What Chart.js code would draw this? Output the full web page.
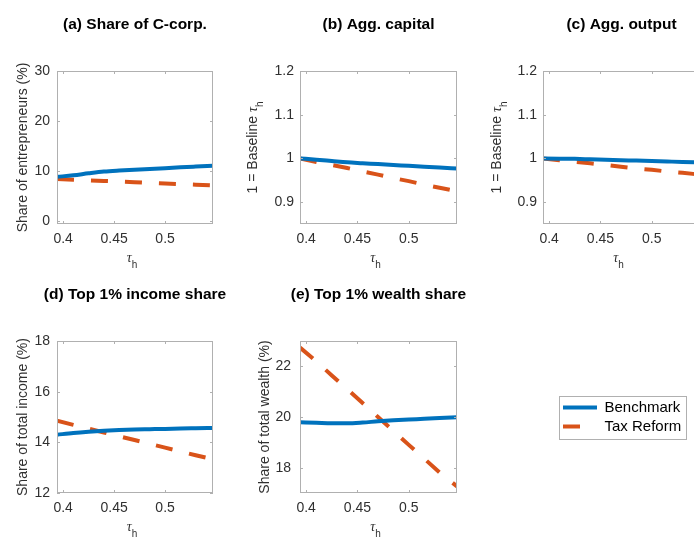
<!DOCTYPE html>
<html><head><meta charset="utf-8">
<script src="https://cdn.jsdelivr.net/npm/chart.js@4.4.1/dist/chart.umd.min.js"></script>
<style>
html,body{margin:0;padding:0;width:694px;height:539px;overflow:hidden;background:#fff;}
canvas{position:absolute;}
</style></head><body>
<canvas id="pa" width="720" height="539" style="left:0;top:0"></canvas>
<canvas id="pb" width="720" height="539" style="left:0;top:0"></canvas>
<canvas id="pc" width="720" height="539" style="left:0;top:0"></canvas>
<canvas id="pd" width="720" height="539" style="left:0;top:0"></canvas>
<canvas id="pe" width="720" height="539" style="left:0;top:0"></canvas>
<canvas id="leg" width="128" height="44" style="left:559px;top:396px"></canvas>
<script>
// ---- data ----
const tau = [0.394, 0.41, 0.425, 0.44, 0.455, 0.47, 0.485, 0.5, 0.515, 0.53, 0.547];
const xTickValues = [0.4, 0.45, 0.5];
const xTickLabels = ['0.4', '0.45', '0.5'];
const seriesNames = ['Benchmark', 'Tax Reform'];
const panelTitles = ['(a) Share of C-corp.', '(b) Agg. capital', '(c) Agg. output', '(d) Top 1% income share', '(e) Top 1% wealth share'];

const benchCcorp   = [8.9, 9.2, 9.6, 9.95, 10.15, 10.3, 10.45, 10.6, 10.8, 10.95, 11.1];
const reformCcorp  = [8.45, 8.32, 8.2, 8.08, 7.96, 7.84, 7.7, 7.58, 7.45, 7.33, 7.2];
const benchCapital = [1.0, 0.997, 0.994, 0.991, 0.989, 0.987, 0.985, 0.983, 0.981, 0.979, 0.977];
const reformCapital= [1.0, 0.992, 0.985, 0.978, 0.970, 0.963, 0.955, 0.948, 0.940, 0.933, 0.925];
const benchOutput  = [1.0, 0.9995, 0.999, 0.998, 0.997, 0.996, 0.995, 0.994, 0.993, 0.992, 0.991];
const reformOutput = [1.0, 0.996, 0.992, 0.989, 0.985, 0.981, 0.977, 0.974, 0.970, 0.967, 0.963];
const benchIncome  = [14.3, 14.37, 14.42, 14.46, 14.49, 14.51, 14.52, 14.53, 14.55, 14.56, 14.57];
const reformIncome = [14.85, 14.69, 14.54, 14.39, 14.24, 14.09, 13.94, 13.79, 13.64, 13.49, 13.33];
const benchWealth  = [19.79, 19.77, 19.75, 19.75, 19.78, 19.83, 19.87, 19.9, 19.93, 19.96, 19.99];
const reformWealth = [22.74, 22.19, 21.64, 21.1, 20.55, 20.0, 19.45, 18.9, 18.36, 17.81, 17.26];

const yTicksCcorp = [0, 10, 20, 30];      const yTickLabelsCcorp = ['0', '10', '20', '30'];
const yTicksRatio = [0.9, 1, 1.1, 1.2];   const yTickLabelsRatio = ['0.9', '1', '1.1', '1.2'];
const yTicksIncome = [12, 14, 16, 18];    const yTickLabelsIncome = ['12', '14', '16', '18'];
const yTicksWealth = [18, 20, 22];        const yTickLabelsWealth = ['18', '20', '22'];

// ---- style ----
const BLUE = '#0072BD', RED = '#D95319';
const TXT = '#303030', BOX = '#b0b0b0';
const SANS = 'Liberation Sans, Arial, sans-serif';
const SERIF = 'Liberation Serif, Times New Roman, serif';
const CW = 720, CH = 539;

function richWidth(ctx, parts) {
  let w = 0;
  for (const p of parts) { ctx.font = p.f; w += ctx.measureText(p.t).width; }
  return w;
}
function drawRich(ctx, parts, cx, base) {
  let x = cx - richWidth(ctx, parts) / 2;
  for (const p of parts) {
    ctx.font = p.f;
    ctx.fillText(p.t, x, base + (p.dy || 0));
    x += ctx.measureText(p.t).width;
  }
}

const tauParts = [{t: 'τ', f: 'italic 14px ' + SERIF}, {t: 'h', f: '10px ' + SANS, dy: 6}];

const decorPlugin = {
  id: 'decor',
  afterDraw(chart) {
    const o = chart.options.plugins.decor;
    const {ctx, chartArea: a, scales: {x, y}} = chart;
    ctx.save();
    ctx.strokeStyle = BOX; ctx.lineWidth = 1;
    ctx.strokeRect(a.left + 0.5, a.top + 0.5, a.right - a.left - 1, a.bottom - a.top - 1);
    ctx.beginPath();
    x.ticks.forEach(t => {
      const px = Math.round(x.getPixelForValue(t.value)) + 0.5;
      ctx.moveTo(px, a.bottom); ctx.lineTo(px, a.bottom - 3);
      ctx.moveTo(px, a.top); ctx.lineTo(px, a.top + 3);
    });
    y.ticks.forEach(t => {
      const py = Math.round(y.getPixelForValue(t.value)) + 0.5;
      ctx.moveTo(a.left, py); ctx.lineTo(a.left + 3, py);
      ctx.moveTo(a.right, py); ctx.lineTo(a.right - 3, py);
    });
    ctx.stroke();
    ctx.fillStyle = '#000';
    ctx.textAlign = 'left'; ctx.textBaseline = 'alphabetic';
    const cx = (a.left + a.right) / 2;
    drawRich(ctx, [{t: o.title, f: 'bold 15.5px ' + SANS}], cx, a.top - 42);
    ctx.fillStyle = TXT;
    drawRich(ctx, tauParts, cx - 3, a.bottom + 38);
    ctx.translate(o.ylabelX, (a.top + a.bottom) / 2);
    ctx.rotate(-Math.PI / 2);
    drawRich(ctx, o.ylabel, 0, 5);
    ctx.restore();
  }
};

function makePanel(id, p) {
  const yW = 50, xH = 40;
  new Chart(document.getElementById(id), {
    type: 'line',
    data: {
      datasets: [
        {label: seriesNames[0], data: tau.map((v, i) => ({x: v, y: p.bench[i]})),
         borderColor: BLUE, borderWidth: 4, pointRadius: 0, cubicInterpolationMode: 'monotone', fill: false},
        {label: seriesNames[1], data: tau.map((v, i) => ({x: v, y: p.reform[i]})),
         borderColor: RED, borderWidth: 4, borderDash: [17, 17], borderCapStyle: 'butt', pointRadius: 0, fill: false}
      ]
    },
    options: {
      responsive: false, animation: false, devicePixelRatio: 1,
      layout: {padding: {left: p.l - yW, top: p.t, right: CW - p.r, bottom: CH - p.b - xH}},
      plugins: {
        legend: {display: false}, tooltip: {enabled: false},
        decor: {title: p.title, ylabel: p.ylabel, ylabelX: p.ylabelX}
      },
      scales: {
        x: {
          type: 'linear', min: tau[0], max: tau[tau.length - 1],
          afterFit: s => { s.height = xH; },
          afterBuildTicks: s => { s.ticks = xTickValues.map(v => ({value: v})); },
          ticks: {callback: (v, i) => xTickLabels[i], padding: 7, color: TXT, font: {family: SANS, size: 14},
                  maxRotation: 0, autoSkip: false},
          grid: {display: false, drawTicks: false}, border: {display: false}
        },
        y: {
          type: 'linear', min: p.ymin, max: p.ymax,
          afterFit: s => { s.width = yW; },
          afterBuildTicks: s => { s.ticks = p.yticks.map(v => ({value: v})); },
          ticks: {callback: (v, i) => p.ylabels[i], padding: p.ypad, color: TXT, font: {family: SANS, size: 14}, autoSkip: false},
          grid: {display: false, drawTicks: false}, border: {display: false}
        }
      }
    },
    plugins: [decorPlugin]
  });
}

const ratioLabel = [{t: '1 = Baseline ', f: '14px ' + SANS}, {t: 'τ', f: 'italic 14px ' + SERIF}, {t: 'h', f: '10px ' + SANS, dy: 6}];

makePanel('pa', {l: 57, t: 71, r: 213, b: 224, ymin: -0.5, ymax: 30, yticks: yTicksCcorp, ylabels: yTickLabelsCcorp, ypad: 7,
  bench: benchCcorp, reform: reformCcorp, title: panelTitles[0],
  ylabel: [{t: 'Share of entrepreneurs (%)', f: '14px ' + SANS}], ylabelX: 22});
makePanel('pb', {l: 300, t: 71, r: 457, b: 224, ymin: 0.85, ymax: 1.2, yticks: yTicksRatio, ylabels: yTickLabelsRatio, ypad: 6,
  bench: benchCapital, reform: reformCapital, title: panelTitles[1], ylabel: ratioLabel, ylabelX: 252});
makePanel('pc', {l: 543, t: 71, r: 700, b: 224, ymin: 0.85, ymax: 1.2, yticks: yTicksRatio, ylabels: yTickLabelsRatio, ypad: 6,
  bench: benchOutput, reform: reformOutput, title: panelTitles[2], ylabel: ratioLabel, ylabelX: 496});
makePanel('pd', {l: 57, t: 341, r: 213, b: 493, ymin: 12, ymax: 18, yticks: yTicksIncome, ylabels: yTickLabelsIncome, ypad: 7,
  bench: benchIncome, reform: reformIncome, title: panelTitles[3],
  ylabel: [{t: 'Share of total income (%)', f: '14px ' + SANS}], ylabelX: 22});
makePanel('pe', {l: 300, t: 341, r: 457, b: 493, ymin: 17, ymax: 23, yticks: yTicksWealth, ylabels: yTickLabelsWealth, ypad: 9,
  bench: benchWealth, reform: reformWealth, title: panelTitles[4],
  ylabel: [{t: 'Share of total wealth (%)', f: '14px ' + SANS}], ylabelX: 264});

// ---- legend ----
const legendBox = {
  id: 'legendBox',
  afterDraw(chart) {
    const ctx = chart.ctx;
    ctx.save(); ctx.strokeStyle = BOX; ctx.lineWidth = 1;
    ctx.strokeRect(0.5, 0.5, chart.width - 1, chart.height - 1);
    ctx.restore();
  }
};
new Chart(document.getElementById('leg'), {
  type: 'line',
  data: {datasets: [
    {label: seriesNames[0], data: [], borderColor: BLUE, borderWidth: 4},
    {label: seriesNames[1], data: [], borderColor: RED, borderWidth: 4, borderDash: [17, 17]}
  ]},
  options: {
    responsive: false, animation: false, devicePixelRatio: 1,
    layout: {padding: 0},
    scales: {x: {display: false}, y: {display: false}},
    plugins: {
      tooltip: {enabled: false},
      legend: {display: true, position: 'top', align: 'start', maxHeight: 44,
        labels: {usePointStyle: true, pointStyle: 'line', pointStyleWidth: 34, padding: 4,
                 color: '#000', font: {family: SANS, size: 15},
                 generateLabels: chart => chart.data.datasets.map((ds, i) => ({
                   text: ds.label, datasetIndex: i, hidden: false,
                   strokeStyle: ds.borderColor, fillStyle: ds.borderColor, lineWidth: ds.borderWidth,
                   lineDash: ds.borderDash ? [ds.borderDash[0], 60] : [], lineCap: 'butt', pointStyle: 'line'
                 }))}}
    }
  },
  plugins: [legendBox]
});
</script>
</body></html>
